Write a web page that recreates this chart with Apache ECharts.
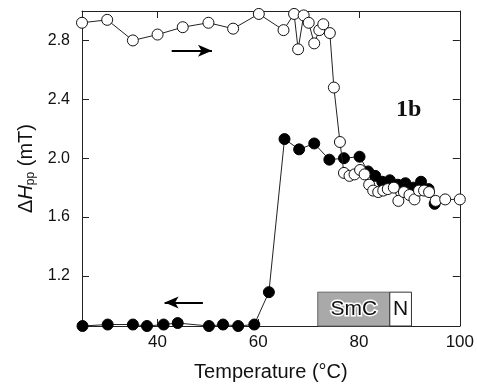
<!DOCTYPE html>
<html>
<head>
<meta charset="utf-8">
<script src="https://cdn.jsdelivr.net/npm/echarts@6/dist/echarts.min.js"></script>
<style>html,body{margin:0;padding:0;background:#fff}#c{width:477px;height:387px}</style>
</head>
<body>
<div id="c"></div>
<script>
// Heating (open circles): [temperature °C, ΔHpp mT]
var heating = [[25.0,2.92],[30.0,2.94],[35.1,2.80],[40.0,2.84],[45.0,2.89],[50.1,2.92],[55.0,2.88],[60.1,2.98],[65.0,2.87],[67.1,2.98],[67.9,2.74],[69.0,2.97],[70.0,2.92],[71.1,2.78],[72.1,2.87],[72.9,2.91],[74.2,2.85],[75.0,2.48],[76.2,2.11],[77.0,1.90],[78.1,1.88],[79.1,1.89],[80.2,1.92],[81.1,1.89],[82.0,1.82],[82.8,1.78],[83.8,1.77],[84.8,1.78],[85.7,1.79],[86.9,1.80],[87.8,1.71],[88.9,1.77],[90.0,1.75],[91.0,1.72],[91.9,1.78],[92.9,1.78],[93.9,1.77],[95.2,1.71],[97.1,1.72],[100.0,1.72]];
// Cooling (filled circles)
var cooling = [[95.0,1.69],[93.8,1.79],[92.3,1.84],[90.8,1.80],[89.2,1.83],[87.7,1.82],[86.1,1.85],[84.6,1.84],[83.2,1.88],[81.8,1.91],[80.1,2.01],[77.0,2.00],[74.1,1.99],[71.1,2.10],[68.1,2.06],[65.2,2.13],[62.1,1.09],[59.2,0.87],[56.0,0.86],[53.0,0.87],[50.2,0.86],[44.0,0.88],[41.2,0.87],[37.9,0.86],[35.1,0.87],[30.1,0.87],[25.1,0.86]];
var xTicks = [40,60,80,100];
var yTicks = [1.2,1.6,2.0,2.4,2.8];
var phases = [{name:'SmC', from:71.8, to:86.1}, {name:'N', from:86.1, to:90.4}];
var phaseTop = 1.09;
var heatArrow = [[42.8,2.73],[50.8,2.73]];
var coolArrow = [[49.0,1.02],[41.4,1.02]];

var FONT = 'Liberation Sans, Arial, sans-serif';
var chart = echarts.init(document.getElementById('c'));
var axisLine = {show:true, lineStyle:{color:'#222', width:1}};
chart.setOption({
  animation:false,
  grid:{left:82, right:10, top:11, bottom:49, containLabel:false},
  xAxis:[{
    type:'value', min:25, max:100, position:'bottom',
    axisLine:axisLine, splitLine:{show:false},
    axisTick:{show:true, inside:true, length:7, customValues:xTicks, lineStyle:{color:'#222'}},
    axisLabel:{customValues:xTicks, fontSize:17, color:'#111', fontFamily:FONT, margin:8},
    name:'Temperature (°C)', nameLocation:'middle', nameGap:36,
    nameTextStyle:{fontSize:20, color:'#111', fontFamily:FONT}
  },{
    type:'value', min:25, max:100, position:'top',
    axisLine:axisLine, splitLine:{show:false},
    axisTick:{show:true, inside:true, length:7, customValues:[40,60,80], lineStyle:{color:'#222'}},
    axisLabel:{show:false}
  }],
  yAxis:[{
    type:'value', min:0.86, max:3.0, position:'left',
    axisLine:axisLine, splitLine:{show:false},
    axisTick:{show:true, inside:true, length:7, customValues:yTicks, lineStyle:{color:'#222'}},
    axisLabel:{customValues:yTicks, fontSize:16, color:'#111', fontFamily:FONT, margin:12,
      formatter:function(v){return v.toFixed(1);}},
    name:'{a|Δ}{i|H}{s|pp}{a| (mT)}', nameLocation:'middle', nameGap:44, nameRotate:90,
    nameTextStyle:{fontSize:20, color:'#111', fontFamily:FONT,
      rich:{a:{fontSize:20, fontFamily:FONT, color:'#111'},
            i:{fontSize:20, fontFamily:FONT, fontStyle:'italic', color:'#111'},
            s:{fontSize:12, fontFamily:FONT, color:'#111', verticalAlign:'bottom', padding:[8,0,0,0]}}}
  },{
    type:'value', min:0.86, max:3.0, position:'right',
    axisLine:axisLine, splitLine:{show:false},
    axisTick:{show:true, inside:true, length:7, customValues:yTicks, lineStyle:{color:'#222'}},
    axisLabel:{show:false}
  }],
  graphic:[{
    type:'text', left:396, top:98,
    style:{text:'1b', font:'bold 24px "Liberation Serif", "Times New Roman", serif', fill:'#111'}
  }],
  series:[{
    type:'line', name:'cooling', data:cooling, z:2,
    symbol:'circle', symbolSize:11, showAllSymbol:true,
    lineStyle:{color:'#222', width:1},
    itemStyle:{color:'#000', borderColor:'#000', borderWidth:1},
    markArea:{silent:true, data:phases.map(function(p){
      return [{xAxis:p.from, yAxis:phaseTop, name:p.name,
        itemStyle:p.name==='SmC'?{color:'#a9a9a9', borderColor:'#666', borderWidth:1}:{color:'#fff', borderColor:'#333', borderWidth:1}},
        {xAxis:p.to, yAxis:0.86}];
    }), label:{show:true, position:'inside', fontSize:21, fontFamily:FONT, color:'#111',
      textBorderColor:'#fff', textBorderWidth:3}},
    markLine:{silent:true, symbol:['none','arrow'], symbolSize:[9,14],
      lineStyle:{color:'#000', width:2, type:'solid'}, label:{show:false},
      data:[[{coord:heatArrow[0]},{coord:heatArrow[1]}],[{coord:coolArrow[0]},{coord:coolArrow[1]}]]}
  },{
    type:'line', name:'heating', data:heating, z:3,
    symbol:'circle', symbolSize:11, showAllSymbol:true,
    lineStyle:{color:'#222', width:1},
    itemStyle:{color:'#fff', borderColor:'#111', borderWidth:1}
  }]
});
</script>
</body>
</html>
